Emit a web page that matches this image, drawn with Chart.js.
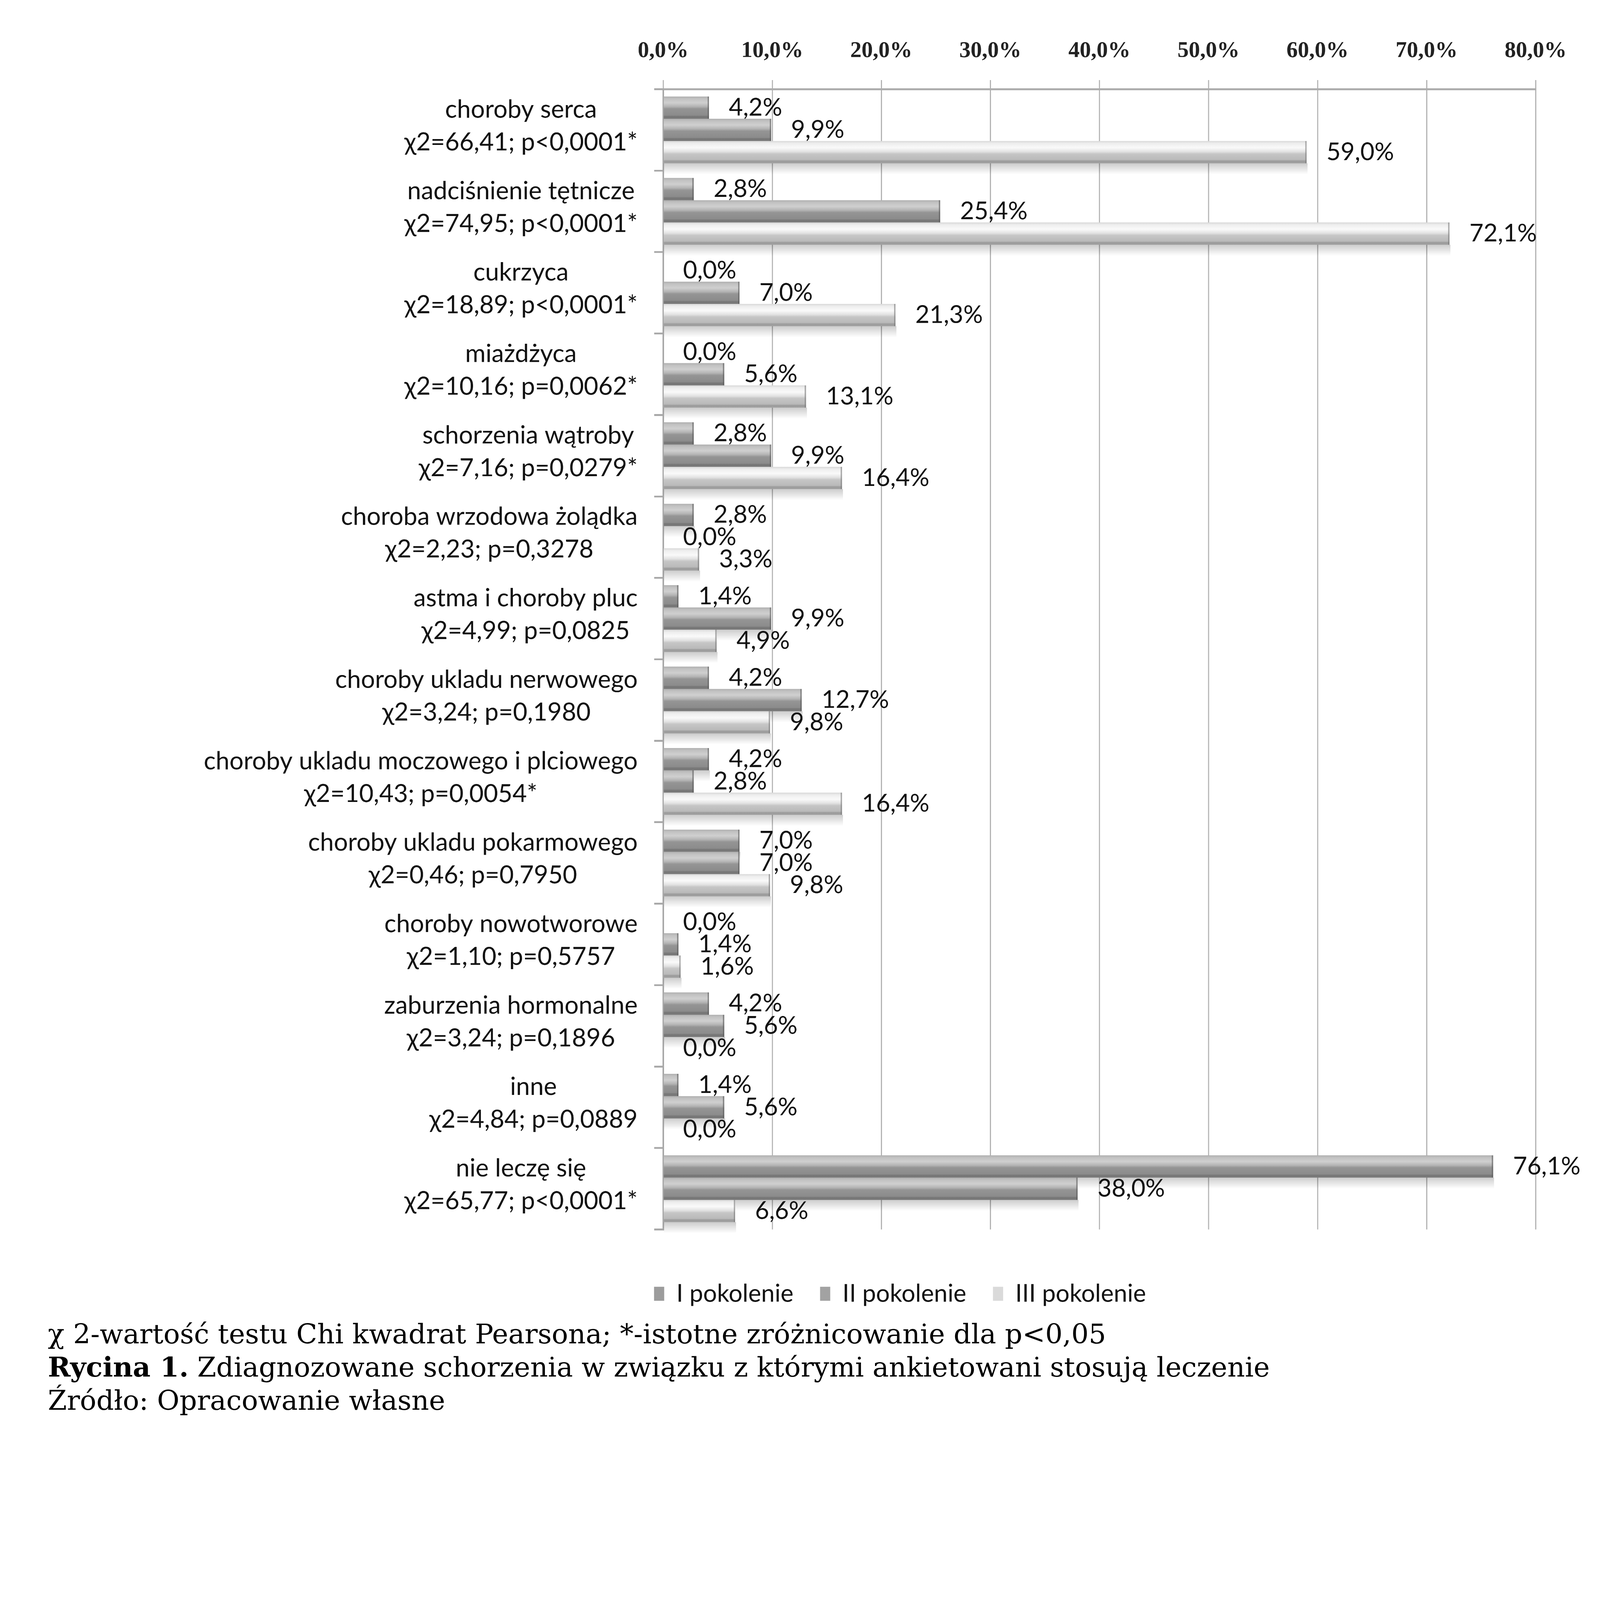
<!DOCTYPE html>
<html>
<head>
<meta charset="utf-8">
<script src="https://cdn.jsdelivr.net/npm/chart.js@4.4.1/dist/chart.umd.min.js"></script>
<style>
  html, body { margin: 0; padding: 0; background: #fff; overflow: hidden; }
  #page { position: absolute; left: 0; top: 0; width: 7086px; height: 6486px; transform-origin: 0 0; background: #fff; }
  #wrap { position: absolute; left: 600px; top: 0; width: 6492px; height: 5803px; }
  .cap { position: absolute; left: 212px; font-family: "DejaVu Serif", serif; font-size: 121px; line-height: 1; color: #000; white-space: nowrap; }
</style>
</head>
<body>
<div id="page">
  <div id="wrap"><canvas id="chart"></canvas></div>
  <div class="cap" style="top:5848px">χ 2-wartość testu Chi kwadrat Pearsona; *-istotne zróżnicowanie dla p&lt;0,05</div>
  <div class="cap" style="top:5993px"><b>Rycina 1.</b> Zdiagnozowane schorzenia w związku z którymi ankietowani stosują leczenie</div>
  <div class="cap" style="top:6142px">Źródło: Opracowanie własne</div>
</div>
<script>
const categories = [
  'choroby serca', 'nadciśnienie tętnicze', 'cukrzyca', 'miażdżyca', 'schorzenia wątroby',
  'choroba wrzodowa żolądka', 'astma i choroby pluc', 'choroby ukladu nerwowego',
  'choroby ukladu moczowego i plciowego', 'choroby ukladu pokarmowego', 'choroby nowotworowe',
  'zaburzenia hormonalne', 'inne', 'nie leczę się'
];
const chiLabels = [
  'χ2=66,41; p<0,0001*', 'χ2=74,95; p<0,0001*', 'χ2=18,89; p<0,0001*', 'χ2=10,16; p=0,0062*',
  'χ2=7,16; p=0,0279*', 'χ2=2,23; p=0,3278', 'χ2=4,99; p=0,0825', 'χ2=3,24; p=0,1980',
  'χ2=10,43; p=0,0054*', 'χ2=0,46; p=0,7950', 'χ2=1,10; p=0,5757', 'χ2=3,24; p=0,1896',
  'χ2=4,84; p=0,0889', 'χ2=65,77; p<0,0001*'
];
const gen1 = [4.2, 2.8, 0.0, 0.0, 2.8, 2.8, 1.4, 4.2, 4.2, 7.0, 0.0, 4.2, 1.4, 76.1];
const gen2 = [9.9, 25.4, 7.0, 5.6, 9.9, 0.0, 9.9, 12.7, 2.8, 7.0, 1.4, 5.6, 5.6, 38.0];
const gen3 = [59.0, 72.1, 21.3, 13.1, 16.4, 3.3, 4.9, 9.8, 16.4, 9.8, 1.6, 0.0, 0.0, 6.6];
const seriesNames = ['I pokolenie', 'II pokolenie', 'III pokolenie'];
const xTicks = [0, 10, 20, 30, 40, 50, 60, 70, 80];

const pct = v => v.toFixed(1).replace('.', ',') + '%';

// the page is laid out at 7086 x 6486 and scaled to whatever the window really is
const page = document.getElementById('page');
const s = Math.min(window.innerWidth / 7086, window.innerHeight / 6486);
page.style.transform = 'scale(' + s + ')';

const darkStops = [[0, '#b0b0b0'], [0.1, '#c2c2c2'], [0.28, '#d0d0d0'], [0.45, '#b4b4b4'], [0.55, '#959595'], [0.84, '#8c8c8c'], [0.9, '#767676'], [1, '#7c7c7c']];
const lightStops = [[0, '#d8d8d8'], [0.1, '#eeeeee'], [0.3, '#fafafa'], [0.48, '#e2e2e2'], [0.58, '#c6c6c6'], [0.84, '#bababa'], [0.9, '#9c9c9c'], [1, '#a2a2a2']];

// repaint bars with a shaded look, shadow under each bar, then value labels
const barLook = {
  id: 'barLook',
  afterDatasetsDraw(chart) {
    const ctx = chart.ctx;
    ctx.save();
    chart.data.datasets.forEach((ds, di) => {
      const meta = chart.getDatasetMeta(di);
      const stops = di === 2 ? lightStops : darkStops;
      meta.data.forEach(el => {
        const { x, y, base, height } = el.getProps(['x', 'y', 'base', 'height'], true);
        const top = y - height / 2, bot = y + height / 2;
        const w = x - base;
        if (w <= 0) return;
        const sh = ctx.createLinearGradient(0, bot, 0, bot + height * 0.5);
        sh.addColorStop(0, 'rgba(0,0,0,0.2)');
        sh.addColorStop(1, 'rgba(0,0,0,0)');
        ctx.fillStyle = sh;
        ctx.fillRect(base, bot, w + 4, height * 0.5);
        const g = ctx.createLinearGradient(0, top, 0, bot);
        stops.forEach(st => g.addColorStop(st[0], st[1]));
        ctx.fillStyle = g;
        ctx.fillRect(base, top, w, height);
        ctx.fillStyle = di === 2 ? 'rgba(120,120,120,0.6)' : 'rgba(90,90,90,0.6)';
        ctx.fillRect(x - 6, top, 6, height);
      });
    });
    ctx.font = '108px Lato';
    ctx.fillStyle = '#111';
    ctx.textAlign = 'left';
    ctx.textBaseline = 'middle';
    chart.data.datasets.forEach((ds, di) => {
      chart.getDatasetMeta(di).data.forEach((el, i) => {
        const { x, y } = el.getProps(['x', 'y'], true);
        ctx.fillText(pct(ds.data[i]), x + 88, y);
      });
    });
    ctx.restore();
  },
  afterDraw(chart) {
    const ctx = chart.ctx;
    const yScale = chart.scales.y;
    const right = chart.chartArea.left - 113;
    ctx.save();
    ctx.font = '110px Lato';
    ctx.fillStyle = '#111';
    ctx.textAlign = 'center';
    ctx.textBaseline = 'middle';
    categories.forEach((name, i) => {
      const cy = yScale.getPixelForValue(i);
      const w = Math.max(ctx.measureText(name).width, ctx.measureText(chiLabels[i]).width);
      const cx = right - w / 2;
      ctx.fillText(name, cx, cy - 90);
      ctx.fillText(chiLabels[i], cx, cy + 55);
    });
    ctx.restore();
  }
};

new Chart(document.getElementById('chart').getContext('2d'), {
  type: 'bar',
  data: {
    labels: categories,
    datasets: [
      { label: seriesNames[0], data: gen1, backgroundColor: '#9c9c9c', borderWidth: 0 },
      { label: seriesNames[1], data: gen2, backgroundColor: '#a2a2a2', borderWidth: 0 },
      { label: seriesNames[2], data: gen3, backgroundColor: '#dadada', borderWidth: 0 }
    ]
  },
  options: {
    indexAxis: 'y',
    responsive: true,
    maintainAspectRatio: false,
    devicePixelRatio: 1,
    animation: false,
    categoryPercentage: 0.82,
    barPercentage: 1,
    layout: { padding: { left: 571, right: 291, top: 0, bottom: 9 } },
    plugins: {
      tooltip: { enabled: false },
      legend: {
        position: 'bottom',
        labels: {
          color: '#111',
          font: { family: 'Lato', size: 108 },
          boxWidth: 45,
          boxHeight: 62,
          padding: 118
        }
      }
    },
    scales: {
      x: {
        position: 'top',
        min: 0,
        max: 80,
        afterBuildTicks: sc => { sc.ticks = xTicks.map(v => ({ value: v })); },
        afterFit: sc => { sc.height = 395; },
        grid: { color: '#b4b4b4', lineWidth: 5, tickLength: 40 },
        border: { color: '#adadad', width: 9 },
        ticks: {
          color: '#222',
          padding: 69,
          font: { family: 'Liberation Serif', size: 100, weight: 'bold' },
          callback: v => pct(v)
        }
      },
      x2: {
        type: 'linear',
        axis: 'x',
        position: 'bottom',
        min: 0,
        max: 80,
        grid: { display: false },
        border: { display: false },
        ticks: { display: false },
        afterFit: sc => { sc.height = 113; }
      },
      y: {
        afterFit: sc => { sc.width = 1766; },
        grid: { drawOnChartArea: false, color: '#a8a8a8', lineWidth: 8, tickLength: 40 },
        border: { color: '#a8a8a8', width: 7 },
        ticks: { display: false }
      }
    }
  },
  plugins: [barLook]
});
</script>
</body>
</html>
